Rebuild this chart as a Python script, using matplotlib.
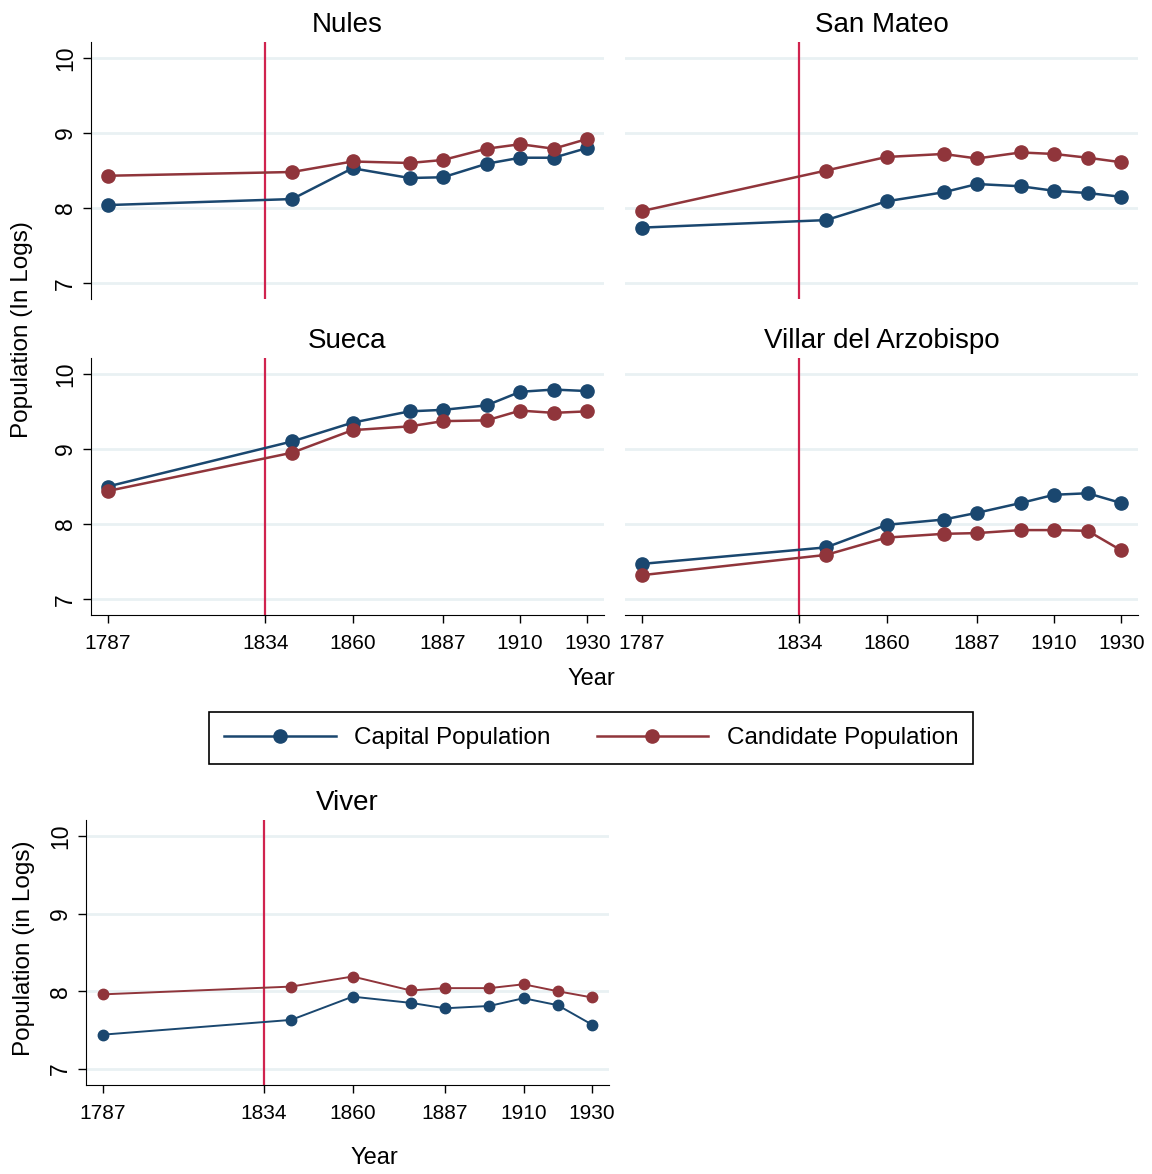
import matplotlib
matplotlib.use("Agg")
import matplotlib.pyplot as plt
from matplotlib.lines import Line2D

plt.rcParams['font.family'] = ['Liberation Sans', 'DejaVu Sans']

# ── Data (log population) ────────────────────────────────────────────────────
years = [1787, 1842, 1860, 1877, 1887, 1900, 1910, 1920, 1930]
tick_years = [1787, 1834, 1860, 1887, 1910, 1930]
reform_year = 1834

nules_capital = [8.04, 8.12, 8.53, 8.40, 8.41, 8.59, 8.67, 8.67, 8.80]
nules_candidate = [8.43, 8.48, 8.62, 8.60, 8.64, 8.79, 8.85, 8.79, 8.92]
sanmateo_capital = [7.74, 7.84, 8.09, 8.21, 8.32, 8.29, 8.23, 8.20, 8.15]
sanmateo_candidate = [7.96, 8.50, 8.68, 8.72, 8.66, 8.74, 8.72, 8.67, 8.61]
sueca_capital = [8.50, 9.10, 9.35, 9.50, 9.52, 9.58, 9.76, 9.79, 9.77]
sueca_candidate = [8.44, 8.95, 9.25, 9.30, 9.37, 9.38, 9.51, 9.48, 9.50]
villar_capital = [7.47, 7.69, 7.99, 8.06, 8.15, 8.28, 8.39, 8.41, 8.28]
villar_candidate = [7.32, 7.59, 7.82, 7.87, 7.88, 7.92, 7.92, 7.91, 7.65]
viver_capital = [7.44, 7.63, 7.93, 7.85, 7.78, 7.81, 7.91, 7.82, 7.57]
viver_candidate = [7.96, 8.06, 8.19, 8.01, 8.04, 8.04, 8.09, 8.00, 7.92]

NAVY = '#1a476f'
MAROON = '#90353b'
VLINE = '#d0234e'
GRID = '#e9f1f3'

W, H = 1152, 1174
fig = plt.figure(figsize=(W / 100, H / 100), dpi=100)


def ax_at(x0, x1, y0, y1):
    return fig.add_axes([x0 / W, 1 - y1 / H, (x1 - x0) / W, (y1 - y0) / H])


def panel(box, title, cap, cand, left=True, bottom=True, ms=9.5, lw=1.8):
    ax = ax_at(*box)
    ax.axvline(reform_year, color=VLINE, lw=1.6, zorder=1.5)
    ax.plot(years, cap, color=NAVY, lw=lw, marker='o', ms=ms, zorder=3)
    ax.plot(years, cand, color=MAROON, lw=lw, marker='o', ms=ms, zorder=3)
    ax.set_xlim(1782, 1935)
    ax.set_ylim(6.79, 10.21)
    ax.set_yticks([7, 8, 9, 10])
    ax.set_xticks(tick_years)
    ax.grid(axis='y', color=GRID, lw=2)
    ax.set_axisbelow(True)
    ax.set_title(title, fontsize=20, pad=7)
    for s in ('top', 'right'):
        ax.spines[s].set_visible(False)
    ax.spines['left'].set_visible(left)
    ax.spines['bottom'].set_visible(bottom)
    ax.tick_params(axis='y', length=6 if left else 0, width=1, pad=4,
                   labelsize=16.5, labelleft=left, labelrotation=90)
    for t in ax.get_yticklabels():
        t.set_va('center')
    ax.tick_params(axis='x', length=6 if bottom else 0, width=1, pad=7.5,
                   labelsize=15, labelbottom=bottom)
    return ax


panel((91, 604, 42, 299), 'Nules', nules_capital, nules_candidate, left=True, bottom=False)
panel((625, 1138, 42, 299), 'San Mateo', sanmateo_capital, sanmateo_candidate, left=False, bottom=False)
panel((91, 604, 358, 615), 'Sueca', sueca_capital, sueca_candidate, left=True, bottom=True)
panel((625, 1138, 358, 615), 'Villar del Arzobispo', villar_capital, villar_candidate, left=False, bottom=True)
panel((86, 609, 820, 1085), 'Viver', viver_capital, viver_candidate, left=True, bottom=True, ms=7.5, lw=1.4)

fig.text(22 / W, 1 - 330 / H, 'Population (In Logs)', rotation=90, ha='center', va='center', fontsize=17.5)
fig.text(591 / W, 1 - 679 / H, 'Year', ha='center', va='center', fontsize=17)
fig.text(24 / W, 1 - 948 / H, 'Population (in Logs)', rotation=90, ha='center', va='center', fontsize=17.5)
fig.text(374 / W, 1 - 1158 / H, 'Year', ha='center', va='center', fontsize=17)

handles = [
    Line2D([], [], color=NAVY, lw=1.8, marker='o', ms=9.5),
    Line2D([], [], color=MAROON, lw=1.8, marker='o', ms=9.5),
]
leg = fig.legend(handles, ['Capital Population', 'Candidate Population'],
                 loc='center', bbox_to_anchor=(591 / W, 1 - 738 / H), ncol=2,
                 fontsize=17.5, handlelength=4.6, handletextpad=0.75,
                 columnspacing=1.9, borderpad=0.6, fancybox=False,
                 framealpha=1, edgecolor='black')
leg.get_frame().set_linewidth(1.2)

fig.savefig('out.png', dpi=100, facecolor='white')
